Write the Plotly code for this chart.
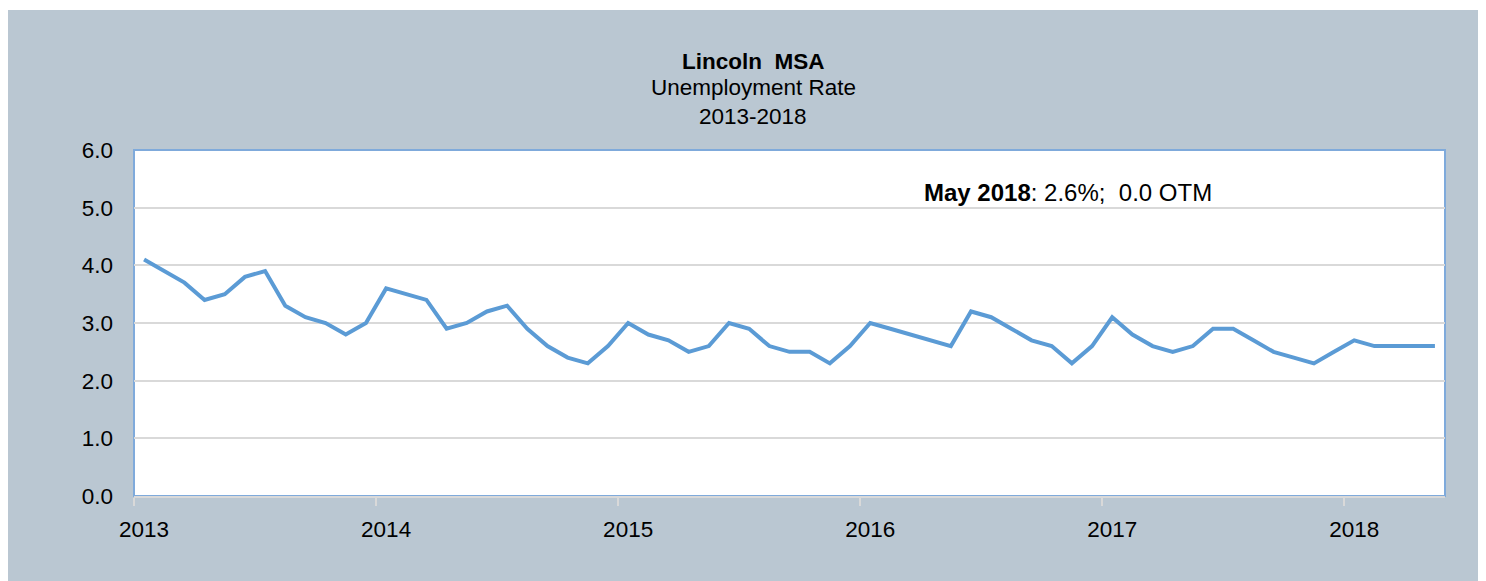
import plotly.graph_objects as go

years = ["2013", "2014", "2015", "2016", "2017", "2018"]
month_names = ["Jan", "Feb", "Mar", "Apr", "May", "Jun",
               "Jul", "Aug", "Sep", "Oct", "Nov", "Dec"]

rate_2013 = [4.1, 3.9, 3.7, 3.4, 3.5, 3.8, 3.9, 3.3, 3.1, 3.0, 2.8, 3.0]
rate_2014 = [3.6, 3.5, 3.4, 2.9, 3.0, 3.2, 3.3, 2.9, 2.6, 2.4, 2.3, 2.6]
rate_2015 = [3.0, 2.8, 2.7, 2.5, 2.6, 3.0, 2.9, 2.6, 2.5, 2.5, 2.3, 2.6]
rate_2016 = [3.0, 2.9, 2.8, 2.7, 2.6, 3.2, 3.1, 2.9, 2.7, 2.6, 2.3, 2.6]
rate_2017 = [3.1, 2.8, 2.6, 2.5, 2.6, 2.9, 2.9, 2.7, 2.5, 2.4, 2.3, 2.5]
rate_2018 = [2.7, 2.6, 2.6, 2.6, 2.6]

rates = rate_2013 + rate_2014 + rate_2015 + rate_2016 + rate_2017 + rate_2018
labels = [f"{m} {y}" for y in years for m in month_names][:len(rates)]
xidx = list(range(len(rates)))

FONT = "Liberation Sans, Arial, sans-serif"
GRAY_BG = "#BAC7D2"
GRID = "#D9D9D9"
BORDER = "#7FAADB"
FS = 22.5

# page has an 8px body margin; figure coordinates = page coordinates - 8
OFF = 8
W, H = 1486 - OFF, 581 - OFF
L, R, T, B = 134 - OFF, 41, 150 - OFF, 85
pw, ph = W - L - R, H - T - B

def px_x(xpage):
    return (xpage - OFF - L) / pw

def px_y(ypage):
    return (H - B - (ypage - OFF)) / ph

fig = go.Figure()
fig.add_trace(go.Scatter(
    x=xidx, y=rates, mode="lines", text=labels,
    line=dict(color="#5B9BD5", width=4),
    hovertemplate="%{text}: %{y:.1f}<extra></extra>",
    showlegend=False,
))

jan_idx = [i for i, lab in enumerate(labels) if lab.startswith("Jan")]
boundaries = [i - 0.5 for i in jan_idx]

fig.update_layout(
    width=W, height=H,
    margin=dict(l=L, r=R, t=T, b=B, pad=0),
    paper_bgcolor="white",
    plot_bgcolor="rgba(0,0,0,0)",
    font=dict(family=FONT, size=FS, color="#000000"),
    xaxis=dict(
        range=[-0.5, len(rates) - 0.5],
        tickvals=jan_idx,
        ticktext=years,
        ticks="",
        showgrid=False,
        zeroline=False,
        showline=True, linecolor=GRID, linewidth=2,
        ticklabelstandoff=12,
        tickfont=dict(size=FS),
        minor=dict(tickvals=boundaries, ticks="outside", ticklen=8,
                   tickcolor=GRID, tickwidth=2, showgrid=False),
    ),
    yaxis=dict(
        range=[0, 6], dtick=1, tickformat=".1f",
        showgrid=True, gridcolor=GRID, gridwidth=1.5,
        zeroline=False, showline=False, ticks="",
        ticklabelstandoff=20,
        tickfont=dict(size=FS),
    ),
    shapes=[
        dict(type="rect", xref="paper", yref="paper", layer="below",
             x0=px_x(7), x1=px_x(1500), y0=px_y(600), y1=px_y(10),
             fillcolor=GRAY_BG, line=dict(width=0)),
        dict(type="rect", xref="paper", yref="paper", layer="below",
             x0=0, x1=1, y0=0, y1=1,
             fillcolor="white", line=dict(color=BORDER, width=2)),
    ],
    annotations=[
        dict(text="<b>Lincoln  MSA</b>", xref="paper", yref="paper",
             x=px_x(753), y=px_y(61), showarrow=False,
             xanchor="center", yanchor="middle", font=dict(size=FS)),
        dict(text="Unemployment Rate", xref="paper", yref="paper",
             x=px_x(753), y=px_y(88), showarrow=False,
             xanchor="center", yanchor="middle", font=dict(size=FS)),
        dict(text="2013-2018", xref="paper", yref="paper",
             x=px_x(753), y=px_y(116), showarrow=False,
             xanchor="center", yanchor="middle", font=dict(size=FS)),
        dict(text="<b>May 2018</b>: 2.6%;&nbsp; 0.0 OTM", xref="paper", yref="paper",
             x=px_x(922), y=px_y(192), showarrow=False,
             xanchor="left", yanchor="middle", font=dict(size=24)),
    ],
)

fig.write_html("out.html")
